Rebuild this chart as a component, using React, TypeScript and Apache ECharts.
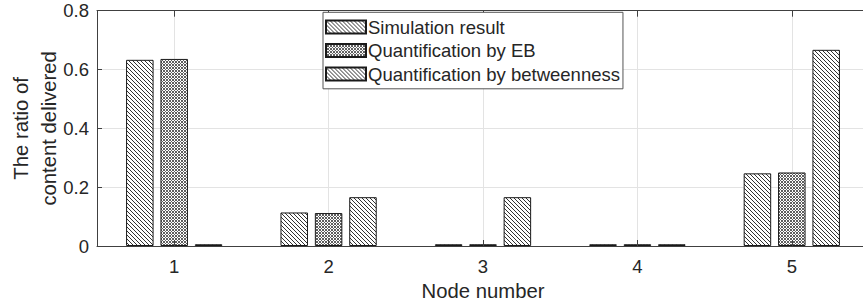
import React, { useEffect, useRef } from "react";
import * as echarts from "echarts";

const categories = ["1", "2", "3", "4", "5"];
const seriesNames = [
  "Simulation result",
  "Quantification by EB",
  "Quantification by betweenness",
];
const simulation = [0.633, 0.114, 0.006, 0.006, 0.247];
const quantEB = [0.636, 0.112, 0.006, 0.006, 0.25];
const quantBetweenness = [0.006, 0.166, 0.166, 0.006, 0.667];
const yTicks = { min: 0, max: 0.8, interval: 0.2 };

function makePattern(kind: "hatch" | "cross"): HTMLCanvasElement {
  const s = kind === "hatch" ? 8 : 6;
  const c = document.createElement("canvas");
  c.width = s;
  c.height = s;
  const ctx = c.getContext("2d")!;
  const img = ctx.createImageData(s, s);
  for (let y = 0; y < s; y++) {
    for (let x = 0; x < s; x++) {
      let dark: boolean;
      if (kind === "hatch") {
        dark = (x - y + 16) % 4 === 0;
      } else {
        dark = (x - y + 12) % 3 === 0 || (x + y) % 3 === 0;
      }
      const i = (y * s + x) * 4;
      const v = dark ? (kind === "hatch" ? 50 : 95) : 255;
      img.data[i] = v;
      img.data[i + 1] = v;
      img.data[i + 2] = v;
      img.data[i + 3] = 255;
    }
  }
  ctx.putImageData(img, 0, 0);
  return c;
}

const TEXT = "#262626";
const AXIS = "#404040";
const GRID = "#e3e3e3";
const FONT = "'Liberation Sans', Arial, Helvetica, sans-serif";

export default function App() {
  const ref = useRef<HTMLDivElement>(null);
  useEffect(() => {
    if (!ref.current) return;
    const chart = echarts.init(ref.current, undefined, { renderer: "svg" });
    const hatch = makePattern("hatch");
    const cross = makePattern("cross");
    const fills = [hatch, cross, hatch];
    const values = [simulation, quantEB, quantBetweenness];
    chart.setOption({
      animation: false,
      backgroundColor: "#ffffff",
      textStyle: { fontFamily: FONT, color: TEXT },
      grid: {
        left: 97,
        top: 10.7,
        bottom: 56,
        right: -6,
        containLabel: false,
        outerBoundsMode: "none",
      },
      legend: {
        orient: "vertical",
        left: 323,
        top: 12.3,
        backgroundColor: "#ffffff",
        borderColor: "#555555",
        borderWidth: 1,
        padding: [5, 3, 5, 2],
        itemWidth: 40,
        itemHeight: 13,
        itemGap: 4,
        icon: "rect",
        textStyle: { fontSize: 18.5, color: TEXT, lineHeight: 19.5, padding: [0, 0, 0, -3] },
        data: seriesNames,
      },
      xAxis: [
        {
          type: "category",
          data: categories,
          position: "bottom",
          boundaryGap: true,
          axisLine: { show: true, lineStyle: { color: AXIS, width: 1 } },
          axisTick: { show: false },
          axisLabel: { color: TEXT, fontSize: 18.5, margin: 11, fontFamily: FONT },
          splitLine: { show: true, alignWithLabel: true, lineStyle: { color: GRID, width: 1 } },
          name: "Node number",
          nameLocation: "middle",
          nameGap: 35,
          nameMoveOverlap: false,
          nameTextStyle: { color: TEXT, fontSize: 20.3, fontFamily: FONT },
        },
        {
          type: "category",
          data: categories,
          position: "top",
          boundaryGap: true,
          axisLine: { show: true, lineStyle: { color: AXIS, width: 1 } },
          axisTick: { show: true, inside: true, alignWithLabel: true, length: 6, lineStyle: { color: AXIS } },
          axisLabel: { show: false },
          splitLine: { show: false },
        },
        {
          type: "category",
          data: categories,
          position: "bottom",
          boundaryGap: true,
          z: 10,
          axisLine: { show: false },
          axisTick: { show: true, inside: true, alignWithLabel: true, length: 6, lineStyle: { color: AXIS } },
          axisLabel: { show: false },
          splitLine: { show: false },
        },
      ],
      yAxis: [
        {
          type: "value",
          min: yTicks.min,
          max: yTicks.max,
          interval: yTicks.interval,
          position: "left",
          axisLine: { show: true, lineStyle: { color: AXIS, width: 1 } },
          axisTick: { show: true, inside: true, length: 5, lineStyle: { color: AXIS } },
          axisLabel: {
            color: TEXT,
            fontSize: 18.5,
            margin: 8,
            fontFamily: FONT,
            formatter: (v: number) => (v === 0 ? "0" : String(Math.round(v * 10) / 10)),
          },
          splitLine: { show: true, lineStyle: { color: GRID, width: 1 } },
          name: "The ratio of\ncontent delivered",
          nameLocation: "middle",
          nameRotate: 90,
          nameGap: 34,
          nameMoveOverlap: false,
          nameTextStyle: { color: TEXT, fontSize: 20.3, lineHeight: 28, fontFamily: FONT },
        },
      ],
      series: seriesNames.map((name, k) => ({
        name,
        type: "bar",
        xAxisIndex: 0,
        yAxisIndex: 0,
        data: values[k],
        barWidth: 27.5,
        barGap: "25%",
        itemStyle: {
          color: { image: fills[k], repeat: "repeat" },
          borderColor: "#1a1a1a",
          borderWidth: 1,
        },
        emphasis: { disabled: true },
      })),
    });
    return () => chart.dispose();
  }, []);
  return (
    <div
      ref={ref}
      style={{ position: "absolute", left: 0, top: 0, width: 863, height: 302 }}
    />
  );
}
